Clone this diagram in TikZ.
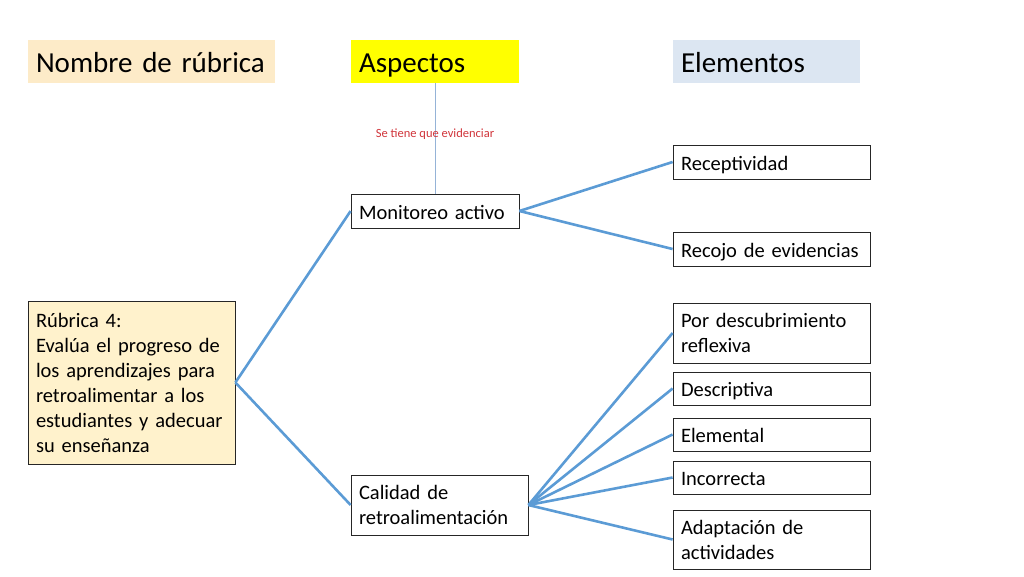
\documentclass[tikz,border=0pt]{standalone}
\usepackage{fontspec}
\setmainfont{Carlito}
\definecolor{hdrorange}{HTML}{FDEBC8}
\definecolor{hdryellow}{HTML}{FFFF00}
\definecolor{hdrblue}{HTML}{DCE6F2}
\definecolor{rubfill}{HTML}{FFF2CC}
\definecolor{linkblue}{HTML}{5B9BD5}
\definecolor{thinblue}{HTML}{95B3D7}
\definecolor{notered}{HTML}{D0343A}
\tikzset{
  hdr/.style={rectangle, draw=none, inner xsep=8pt, inner ysep=0pt, align=left,
    font=\fontsize{29}{33}\selectfont, text height=21pt, text depth=0pt, anchor=center},
  boxnode/.style={rectangle, draw=black!85, line width=0.8pt, fill=white, inner xsep=8pt,
    inner ysep=0pt, align=left, font=\fontsize{20.5}{25}\selectfont, anchor=center},
  oneline/.style={boxnode, text height=16pt, text depth=0pt},
  link/.style={draw=linkblue, line width=2.6pt},
}
\begin{document}
\begin{tikzpicture}[x=1pt,y=-1pt]
\useasboundingbox (0,0) rectangle (1024,576);
% headers
\node[hdr, fill=hdrorange, text width=231pt, minimum height=43pt] (hname) at (151.5,61.5) {Nombre de rúbrica};
\node[hdr, fill=hdryellow, text width=152pt, minimum height=43pt] (hasp) at (435,61.5) {Aspectos};
\node[hdr, fill=hdrblue, text width=171pt, minimum height=43pt] (helem) at (766.5,61.5) {Elementos};
% main boxes
\node[boxnode, fill=rubfill, text width=191pt, minimum height=163pt] (rub) at (131.5,382.5)
  {Rúbrica 4:\\Evalúa el progreso de\\los aprendizajes para\\retroalimentar a los\\estudiantes y adecuar\\su enseñanza};
\node[oneline, text width=152pt, minimum height=34pt] (mon) at (435,211) {Monitoreo activo};
\node[boxnode, text width=161pt, minimum height=60pt] (cal) at (439.5,505) {Calidad de\\retroalimentación};
% right boxes
\node[oneline, text width=181pt, minimum height=34pt] (rec) at (771.5,162) {Receptividad};
\node[oneline, text width=181pt, minimum height=34pt] (evi) at (771.5,249) {Recojo de evidencias};
\node[boxnode, text width=181pt, minimum height=60pt] (des) at (771.5,333) {Por descubrimiento\\reflexiva};
\node[oneline, text width=181pt, minimum height=33pt] (dsc) at (771.5,388.5) {Descriptiva};
\node[oneline, text width=181pt, minimum height=33pt] (ele) at (771.5,434.5) {Elemental};
\node[oneline, text width=181pt, minimum height=33pt] (inc) at (771.5,477.5) {Incorrecta};
\node[boxnode, text width=181pt, minimum height=59pt] (ada) at (771.5,539.5) {Adaptación de\\actividades};
% thin connector with note
\draw[thinblue, line width=0.8pt] (hasp.south) -- (mon.north);
\node[text=notered, font=\fontsize{12.5}{14}\selectfont, inner sep=1pt] (note) at (435,134) {Se tiene que evidenciar};
% links
\coordinate (rubR) at (rub.east);
\coordinate (monR) at (mon.east);
\coordinate (calR) at (cal.east);
\draw[link] (rubR) -- (mon.west);
\draw[link] (rubR) -- (cal.west);
\draw[link] (monR) -- (rec.west);
\draw[link] (monR) -- (evi.west);
\draw[link] (calR) -- (des.west);
\draw[link] (calR) -- (dsc.west);
\draw[link] (calR) -- (ele.west);
\draw[link] (calR) -- (inc.west);
\draw[link] (calR) -- (ada.west);
\end{tikzpicture}
\end{document}
